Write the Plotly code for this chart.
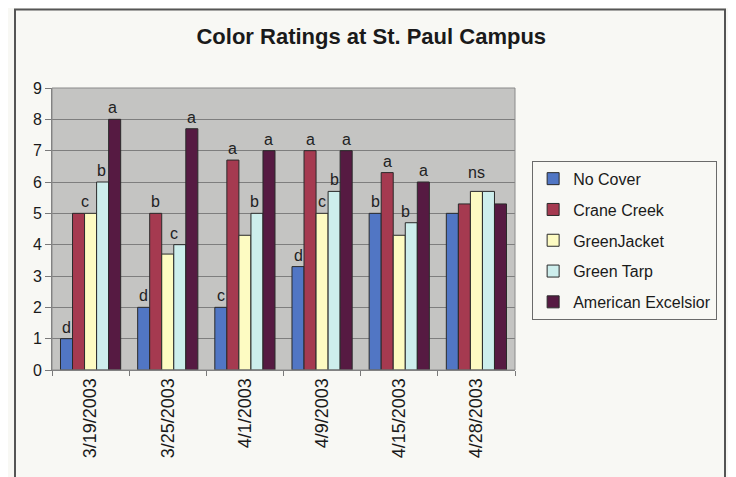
import plotly.graph_objects as go

dates = ["3/19/2003", "3/25/2003", "4/1/2003", "4/9/2003", "4/15/2003", "4/28/2003"]

no_cover = [1, 2, 2, 3.3, 5, 5]
crane_creek = [5, 5, 6.7, 7, 6.3, 5.3]
green_jacket = [5, 3.7, 4.3, 5, 4.3, 5.7]
green_tarp = [6, 4, 5, 5.7, 4.7, 5.7]
american_excelsior = [8, 7.7, 7, 7, 6, 5.3]

# significance letters per series (one per date)
let_no_cover = ["d", "d", "c", "d", "b", ""]
let_crane_creek = ["c", "b", "a", "a", "a", ""]
let_green_jacket = ["", "", "", "c", "", ""]
let_green_tarp = ["b", "c", "b", "b", "b", ""]
let_american_excelsior = ["a", "a", "a", "a", "a", ""]
group_letter = ["", "", "", "", "", "ns"]

series_names = ["No Cover", "Crane Creek", "GreenJacket", "Green Tarp", "American Excelsior"]
series_vals = [no_cover, crane_creek, green_jacket, green_tarp, american_excelsior]
series_lets = [let_no_cover, let_crane_creek, let_green_jacket, let_green_tarp, let_american_excelsior]
colors = ["#5176c4", "#a53a50", "#fdfbc2", "#cdeeec", "#561a42"]

# small horizontal nudges (in bar widths) for letters sitting between bars
nudge = {(0, 1): 0.5, (1, 3): -0.5, (4, 3): -0.5, (2, 3): -0.2, (0, 4): -0.2, (0, 3): -0.1}

FONT = "Arial, Liberation Sans, sans-serif"
BARGAP = 0.22

fig = go.Figure()
for name, vals, col in zip(series_names, series_vals, colors):
    fig.add_trace(go.Bar(
        x=dates, y=vals, name=name, legendgroup=name,
        marker=dict(color=col, line=dict(color="#2a2a2a", width=1)),
    ))

bar_w = (1 - BARGAP) / len(series_names)
annotations = []
for s, (vals, lets) in enumerate(zip(series_vals, series_lets)):
    for g, (v, t) in enumerate(zip(vals, lets)):
        if not t:
            continue
        xc = g - (1 - BARGAP) / 2 + (s + 0.5 + nudge.get((g, s), 0)) * bar_w
        annotations.append(dict(x=xc, y=v, xref="x", yref="y", text=t, showarrow=False,
                                yanchor="bottom", yshift=1,
                                font=dict(family=FONT, size=16, color="#222")))
for g, t in enumerate(group_letter):
    if t:
        top = max(sv[g] for sv in series_vals)
        annotations.append(dict(x=g, y=top, xref="x", yref="y", text=t, showarrow=False,
                                yanchor="bottom", yshift=8,
                                font=dict(family=FONT, size=16, color="#222")))

# page body has an 8px margin; figure is sized/positioned to compensate
fig.update_layout(
    width=728, height=469,
    margin=dict(l=44, r=221, t=80, b=107),
    paper_bgcolor="#f8f8f4",
    plot_bgcolor="#c4c4c2",
    bargap=BARGAP, bargroupgap=0,
    title=dict(text="<b>Color Ratings at St. Paul Campus</b>", x=0.499, xanchor="center",
               y=0.94, yanchor="middle",
               font=dict(family=FONT, size=22, color="#1a1a1a")),
    font=dict(family=FONT, size=15, color="#1a1a1a"),
    showlegend=True,
    legend=dict(x=1.037, xanchor="left", y=0.742, yanchor="top",
                bgcolor="#f8f8f4", bordercolor="#6a6a6a", borderwidth=1,
                font=dict(family=FONT, size=16, color="#1a1a1a"),
                tracegroupgap=7, traceorder="grouped"),
    annotations=annotations,
    xaxis=dict(type="category", tickangle=-90, showline=True, linecolor="#7a7a7a",
               ticks="outside", tickson="boundaries", ticklen=5, tickcolor="#7a7a7a",
               tickfont=dict(family=FONT, size=18, color="#1a1a1a"), showgrid=False,
               mirror=False),
    yaxis=dict(range=[0, 9], dtick=1, showgrid=True, gridcolor="#7e7e7e", gridwidth=1,
               showline=True, linecolor="#7a7a7a", ticks="outside", ticklen=6,
               tickcolor="#7a7a7a", zeroline=False,
               tickfont=dict(family=FONT, size=16, color="#1a1a1a")),
    shapes=[
        dict(type="rect", xref="paper", yref="paper", x0=0, x1=1, y0=0, y1=1,
             line=dict(color="#8a8a8a", width=1), fillcolor="rgba(0,0,0,0)", layer="above"),
        dict(type="rect", xref="paper", yref="paper", x0=(7 - 44) / 463, x1=(717 - 44) / 463,
             y0=-0.6, y1=(362 - 1.5) / 282, line=dict(color="#555555", width=2),
             fillcolor="rgba(0,0,0,0)"),
    ],
)

fig.write_html("out.html")
